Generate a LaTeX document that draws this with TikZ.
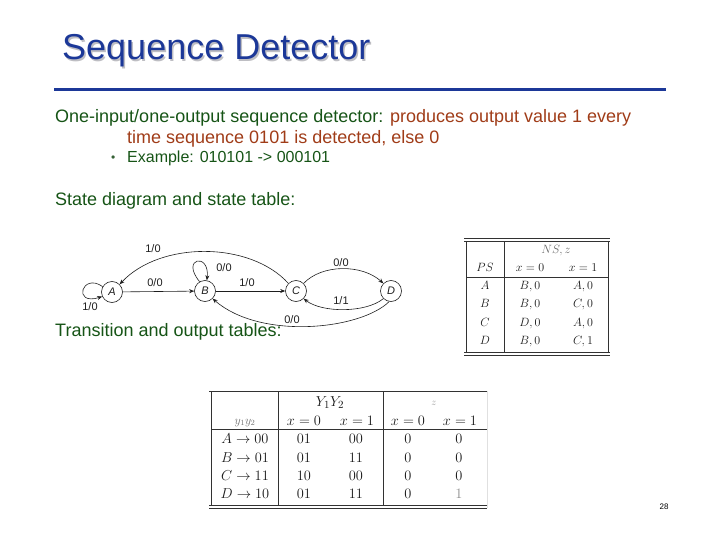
\documentclass[tikz,border=0pt]{standalone}
\usepackage{fontspec}
\setmainfont{Liberation Sans}
\usetikzlibrary{arrows.meta}
\definecolor{ttlblue}{RGB}{28,56,152}
\definecolor{shadowgray}{RGB}{190,190,195}
\definecolor{dkgreen}{RGB}{22,84,22}
\definecolor{rbrown}{RGB}{160,60,24}
\definecolor{diag}{RGB}{30,30,30}
\definecolor{tabtext}{RGB}{25,25,25}
\definecolor{tabline}{RGB}{50,50,50}
\begin{document}
\begin{tikzpicture}[x=1pt,y=-1pt,
  txt/.style={anchor=base west, inner sep=0},
  bodyfont/.style={font=\fontsize{18}{21}\selectfont},
  state/.style={circle, draw=diag, line width=0.6pt, minimum size=21pt, inner sep=0,
    font=\fontsize{11}{13}\selectfont\itshape, text=diag},
  lbl/.style={inner sep=0, font=\fontsize{11}{13}\selectfont, text=diag},
  arr/.style={draw=diag, line width=0.6pt, -{Stealth[length=5pt,width=4pt]}},
  stcell/.style={inner sep=0, anchor=base, text=tabtext, font=\fontsize{12}{14}\selectfont},
  trcell/.style={inner sep=0, anchor=base, text=tabtext, font=\fontsize{15}{17}\selectfont},
  tline/.style={draw=tabline, line width=0.7pt}
]
\useasboundingbox (0,0) rectangle (720,540);

% title
\node[txt, text=shadowgray, font=\fontsize{36}{40}\selectfont] (titleshadow) at (63.5,61.5) {Sequence Detector};
\node[txt, text=ttlblue, font=\fontsize{36}{40}\selectfont] (title) at (62,60) {Sequence Detector};
\draw[ttlblue, line width=3pt] (54,90) coordinate (rulel) -- (666,90) coordinate (ruler);

% body text
\node[txt, bodyfont] (line1) at (55,123) {\color{dkgreen}One-input/one-output sequence detector: \color{rbrown}produces output value 1 every};
\node[txt, bodyfont, text=rbrown] (line2) at (127,144) {time sequence 0101 is detected, else 0};
\node[txt, font=\fontsize{12}{14}\selectfont, text=dkgreen!70!gray] (bullet) at (111,162) {•};
\node[txt, font=\fontsize{16}{19}\selectfont, text=dkgreen] (example) at (127,163) {Example: 010101 -> 000101};
\node[txt, bodyfont, text=dkgreen] (sdtitle) at (55,206) {State diagram and state table:};
\node[txt, bodyfont, text=dkgreen] (tttitle) at (55,336) {Transition and output tables:};

% state diagram
\node[state] (A) at (112,292) {A};
\node[state] (B) at (205,291) {B};
\node[state] (C) at (296,291) {C};
\node[state] (D) at (391,291) {D};

\draw[arr] (A.150) .. controls (82,272) and (72,306) .. (A.205);
\draw[arr] (B.120) .. controls (180,258) and (210,252) .. (B.80);
\draw[arr] (A) -- (B);
\draw[arr] (B) -- (C);
\draw[arr] (C.135) .. controls (250,241) and (160,241) .. (A.45);
\draw[arr] (C.45) .. controls (322,264) and (362,264) .. (D.135);
\draw[arr] (D.225) .. controls (366,313) and (322,313) .. (C.315);
\draw[arr] (D.260) .. controls (360,330) and (260,340) .. (B.315);

\node[lbl] (lAA) at (90,307) {1/0};
\node[lbl] (lBB) at (224,268) {0/0};
\node[lbl] (lAB) at (155,283) {0/0};
\node[lbl] (lBC) at (247,283) {1/0};
\node[lbl] (lCA) at (153,249) {1/0};
\node[lbl] (lCD) at (341,263) {0/0};
\node[lbl] (lDC) at (341,301) {1/1};
\node[lbl] (lDB) at (292,320) {0/0};

% state table
\draw[tline] (464,238) -- (610,238);
\draw[tline] (464,241) -- (610,241);
\draw[tline] (464,352) -- (610,352);
\draw[tline] (464,355) -- (610,355);
\draw[tline] (466,241) -- (466,352);
\draw[tline] (608,241) -- (608,352);
\draw[tline] (504,241) -- (504,352);
\draw[tline] (466,277) -- (608,277);
\node[stcell, text=black!60] (nsz) at (556,253) {$NS,z$};
\node[stcell] (ps) at (485,271) {$PS$};
\node[stcell] (sx0) at (530,271) {$x=0$};
\node[stcell] (sx1) at (583,271) {$x=1$};
\node[stcell] (sA) at (485,289) {$A$};
\node[stcell] (sA0) at (530,289) {$B,0$};
\node[stcell] (sA1) at (583,289) {$A,0$};
\node[stcell] (sB) at (485,307) {$B$};
\node[stcell] (sB0) at (530,307) {$B,0$};
\node[stcell] (sB1) at (583,307) {$C,0$};
\node[stcell] (sC) at (485,326) {$C$};
\node[stcell] (sC0) at (530,326) {$D,0$};
\node[stcell] (sC1) at (583,326) {$A,0$};
\node[stcell] (sD) at (485,344) {$D$};
\node[stcell] (sD0) at (530,344) {$B,0$};
\node[stcell] (sD1) at (583,344) {$C,1$};

% transition and output table
\draw[tline, line width=1pt] (209,391) -- (487,391);
\draw[tline] (209,505) -- (487,505);
\draw[tline] (209,508) -- (487,508);
\draw[tline] (211,391) -- (211,505);
\draw[tline] (278,391) -- (278,505);
\draw[tline] (383,391) -- (383,505);
\draw[draw=black!12, line width=0.6pt] (487,391) -- (487,508);
\draw[tline] (211,429) -- (487,429);
\node[trcell] (hY) at (330,406) {$Y_1Y_2$};
\node[trcell, text=black!40, font=\fontsize{10}{12}\selectfont] (hz) at (434,405) {$z$};
\node[trcell, text=black!55, font=\fontsize{12}{14}\selectfont] (hy) at (245,424) {$y_1y_2$};
\node[trcell] (tx0) at (304,425) {$x=0$};
\node[trcell] (tx1) at (357,425) {$x=1$};
\node[trcell] (zx0) at (408,425) {$x=0$};
\node[trcell] (zx1) at (460,425) {$x=1$};
\node[trcell] (rA) at (245,443) {$A\rightarrow 00$};
\node[trcell] (rA0) at (304,443) {$01$};
\node[trcell] (rA1) at (356,443) {$00$};
\node[trcell] (rAz0) at (408,443) {$0$};
\node[trcell] (rAz1) at (459,443) {$0$};
\node[trcell] (rB) at (245,462) {$B\rightarrow 01$};
\node[trcell] (rB0) at (304,462) {$01$};
\node[trcell] (rB1) at (356,462) {$11$};
\node[trcell] (rBz0) at (408,462) {$0$};
\node[trcell] (rBz1) at (459,462) {$0$};
\node[trcell] (rC) at (245,480) {$C\rightarrow 11$};
\node[trcell] (rC0) at (304,480) {$10$};
\node[trcell] (rC1) at (356,480) {$00$};
\node[trcell] (rCz0) at (408,480) {$0$};
\node[trcell] (rCz1) at (459,480) {$0$};
\node[trcell] (rD) at (245,498) {$D\rightarrow 10$};
\node[trcell] (rD0) at (304,498) {$01$};
\node[trcell] (rD1) at (356,498) {$11$};
\node[trcell] (rDz0) at (408,498) {$0$};
\node[trcell, text=black!45] (rDz1) at (459,498) {$1$};

% page number
\node[inner sep=0, font=\fontsize{8}{10}\selectfont] (pagenum) at (664,507) {28};
\end{tikzpicture}
\end{document}
